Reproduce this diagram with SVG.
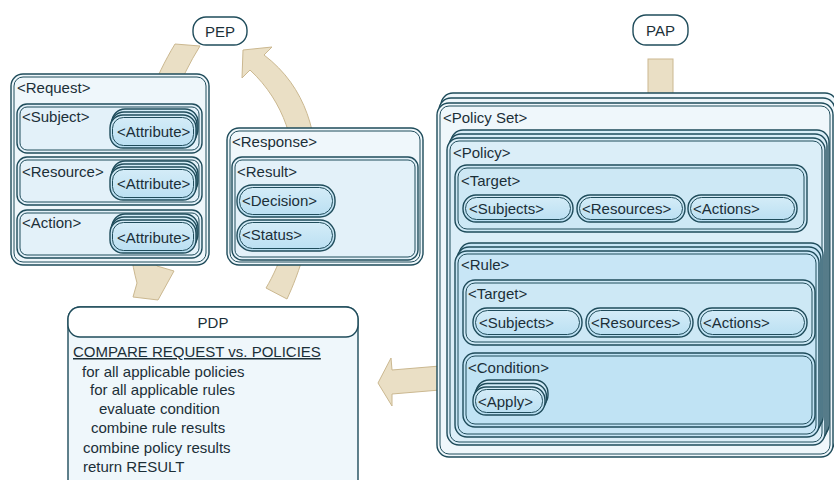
<svg xmlns="http://www.w3.org/2000/svg" width="834" height="480" viewBox="0 0 834 480">
<style>
.t{font-family:"Liberation Sans",Arial,sans-serif;font-size:15px;fill:#1b2f38}
.b{stroke:#1f4c5b;stroke-width:1.4}
.in{fill:none;stroke:#1f4c5b;stroke-width:1}
.arr{fill:#eadfc5;stroke:#cbb890;stroke-width:1}
.f0{fill:#eff7fb}
.f1{fill:#e3f1f9}
.fp{fill:url(#gp)}
.fpol{fill:#dbeef8}
.ftg{fill:#cde8f5}
.frule{fill:#c8e6f6}
.fcond{fill:#c0e3f4}
.fw{fill:#ffffff}
</style>
<defs>
<linearGradient id="gp" x1="0" y1="0" x2="0" y2="1">
<stop offset="0" stop-color="#d6edf8"/>
<stop offset="1" stop-color="#b9dff2"/>
</linearGradient>
</defs>

<g id="connectors">
<path class="arr" d="M175,44 L200,46 C160,110 140,200 157,266 L174,271 L158,300 L133,297 L137,283 C115,200 135,110 175,44 Z"/>
<path class="arr" d="M287,299 C310,250 350,120 264,55 L272,47 L243,50 L242,78 L250,70 C320,135 295,240 266,288 Z"/>
<rect class="arr" x="648" y="59" width="25" height="40"/>
<path class="arr" d="M440,366 L392,370 L391,358 L378,383 L392,406 L392,394 L440,390 Z"/>
</g>

<g id="pep">
<rect class="b fw" x="193" y="17" width="54" height="28" rx="13"/>
<text class="t" x="220" y="37" text-anchor="middle" font-size="16">PEP</text>
</g>

<g id="pap">
<rect class="b fw" x="633" y="15" width="55" height="30" rx="13"/>
<text class="t" x="660.5" y="36" text-anchor="middle" font-size="16">PAP</text>
</g>

<g id="request">
<rect class="b f0" x="11" y="74" width="198" height="191" rx="12"/>
<rect class="in" x="14" y="77" width="192" height="185" rx="9"/>
<text class="t" x="17" y="93">&lt;Request&gt;</text>
<g id="subject">
<rect class="b f1" x="17" y="104" width="185" height="49" rx="10"/>
<rect class="in" x="20" y="107" width="179" height="43" rx="7"/>
<text class="t" x="22" y="122">&lt;Subject&gt;</text>
<rect class="b fp" x="112" y="109" width="86" height="33" rx="13"/>
<rect class="b fp" x="111" y="112" width="86" height="33" rx="13"/>
<rect class="b fp" x="110" y="115" width="86" height="33" rx="13"/>
<rect class="in" x="112.5" y="117.5" width="81" height="28" rx="11"/>
<text class="t" x="117" y="137">&lt;Attribute&gt;</text>
</g>
<g id="resource">
<rect class="b f1" x="17" y="157" width="185" height="48" rx="10"/>
<rect class="in" x="20" y="160" width="179" height="42" rx="7"/>
<text class="t" x="22" y="177">&lt;Resource&gt;</text>
<rect class="b fp" x="112" y="161" width="86" height="33" rx="13"/>
<rect class="b fp" x="111" y="164" width="86" height="33" rx="13"/>
<rect class="b fp" x="110" y="167" width="86" height="33" rx="13"/>
<rect class="in" x="112.5" y="169.5" width="81" height="28" rx="11"/>
<text class="t" x="117" y="189">&lt;Attribute&gt;</text>
</g>
<g id="action">
<rect class="b f1" x="17" y="210" width="185" height="48" rx="10"/>
<rect class="in" x="20" y="213" width="179" height="42" rx="7"/>
<text class="t" x="22" y="228">&lt;Action&gt;</text>
<rect class="b fp" x="112" y="214" width="86" height="33" rx="13"/>
<rect class="b fp" x="111" y="217" width="86" height="33" rx="13"/>
<rect class="b fp" x="110" y="220" width="86" height="33" rx="13"/>
<rect class="in" x="112.5" y="222.5" width="81" height="28" rx="11"/>
<text class="t" x="117" y="243">&lt;Attribute&gt;</text>
</g>
</g>

<g id="response">
<rect class="b f0" x="227" y="128" width="196" height="137" rx="12"/>
<rect class="in" x="230" y="131" width="190" height="131" rx="9"/>
<text class="t" x="232" y="147">&lt;Response&gt;</text>
<g id="result">
<rect class="b f1" x="232" y="157" width="186" height="103" rx="10"/>
<rect class="in" x="235" y="160" width="180" height="97" rx="7"/>
<text class="t" x="237" y="177">&lt;Result&gt;</text>
</g>
<g id="decision">
<rect class="b fp" x="237" y="185" width="98" height="32" rx="15"/>
<rect class="in" x="239.5" y="187.5" width="93" height="27" rx="13"/>
<text class="t" x="242" y="206">&lt;Decision&gt;</text>
</g>
<g id="status">
<rect class="b fp" x="237" y="220" width="98" height="31" rx="15"/>
<rect class="in" x="239.5" y="222.5" width="93" height="26" rx="13"/>
<text class="t" x="242" y="240">&lt;Status&gt;</text>
</g>
</g>

<g id="pdp">
<rect class="b f0" x="68" y="307" width="290" height="185" rx="12"/>
<rect class="b fw" x="68" y="307" width="290" height="30" rx="12"/>
<text class="t" x="213" y="328" text-anchor="middle">PDP</text>
<text class="t" x="73" y="357" text-decoration="underline">COMPARE REQUEST vs. POLICIES</text>
<text class="t" x="82" y="377">for all applicable policies</text>
<text class="t" x="90" y="395">for all applicable rules</text>
<text class="t" x="99" y="414">evaluate condition</text>
<text class="t" x="91" y="433">combine rule results</text>
<text class="t" x="83" y="453">combine policy results</text>
<text class="t" x="83" y="472">return RESULT</text>
</g>

<g id="policy-set">
<rect class="b f0" x="441" y="93" width="396" height="354" rx="12"/>
<rect class="b f0" x="439" y="98" width="396" height="354" rx="12"/>
<rect class="b f0" x="437" y="103" width="396" height="354" rx="12"/>
<rect class="in" x="440" y="106" width="390" height="348" rx="9"/>
<text class="t" x="443" y="123">&lt;Policy Set&gt;</text>
</g>

<g id="policy">
<rect class="b fpol" x="451" y="130" width="378" height="307" rx="12"/>
<rect class="b fpol" x="449" y="134" width="378" height="307" rx="12"/>
<rect class="b fpol" x="447" y="138" width="378" height="307" rx="12"/>
<rect class="in" x="450" y="141" width="372" height="301" rx="9"/>
<text class="t" x="453" y="158">&lt;Policy&gt;</text>
</g>

<g id="policy-target">
<rect class="b ftg" x="455" y="165" width="352" height="67" rx="12"/>
<rect class="in" x="458" y="168" width="346" height="61" rx="9"/>
<text class="t" x="461" y="186">&lt;Target&gt;</text>
<rect class="b fp" x="463" y="195" width="110" height="27" rx="13"/>
<rect class="in" x="465.5" y="197.5" width="105" height="22" rx="11"/>
<text class="t" x="469" y="214">&lt;Subjects&gt;</text>
<rect class="b fp" x="577" y="195" width="108" height="27" rx="13"/>
<rect class="in" x="579.5" y="197.5" width="103" height="22" rx="11"/>
<text class="t" x="582" y="214">&lt;Resources&gt;</text>
<rect class="b fp" x="688" y="195" width="109" height="27" rx="13"/>
<rect class="in" x="690.5" y="197.5" width="104" height="22" rx="11"/>
<text class="t" x="693" y="214">&lt;Actions&gt;</text>
</g>

<g id="rule">
<rect class="b frule" x="459" y="243" width="364" height="186" rx="12"/>
<rect class="b frule" x="457" y="247" width="364" height="186" rx="12"/>
<rect class="b frule" x="455" y="251" width="364" height="186" rx="12"/>
<rect class="in" x="458" y="254" width="358" height="180" rx="9"/>
<text class="t" x="461" y="270">&lt;Rule&gt;</text>
</g>

<g id="rule-target">
<rect class="b ftg" x="463" y="280" width="352" height="65" rx="12"/>
<rect class="in" x="466" y="283" width="346" height="59" rx="9"/>
<text class="t" x="468" y="299">&lt;Target&gt;</text>
<rect class="b fp" x="473" y="308" width="109" height="29" rx="14"/>
<rect class="in" x="475.5" y="310.5" width="104" height="24" rx="12"/>
<text class="t" x="479" y="328">&lt;Subjects&gt;</text>
<rect class="b fp" x="586" y="308" width="107" height="29" rx="14"/>
<rect class="in" x="588.5" y="310.5" width="102" height="24" rx="12"/>
<text class="t" x="591" y="328">&lt;Resources&gt;</text>
<rect class="b fp" x="698" y="308" width="109" height="29" rx="14"/>
<rect class="in" x="700.5" y="310.5" width="104" height="24" rx="12"/>
<text class="t" x="703" y="328">&lt;Actions&gt;</text>
</g>

<g id="condition">
<rect class="b fcond" x="463" y="353" width="352" height="74" rx="12"/>
<rect class="in" x="466" y="356" width="346" height="68" rx="9"/>
<text class="t" x="468" y="373">&lt;Condition&gt;</text>
<rect class="b fp" x="476" y="380" width="72" height="28" rx="13"/>
<rect class="b fp" x="474.5" y="383.5" width="72" height="28" rx="13"/>
<rect class="b fp" x="473" y="387" width="72" height="28" rx="13"/>
<rect class="in" x="475.5" y="389.5" width="67" height="23" rx="11"/>
<text class="t" x="478" y="407">&lt;Apply&gt;</text>
</g>
</svg>
